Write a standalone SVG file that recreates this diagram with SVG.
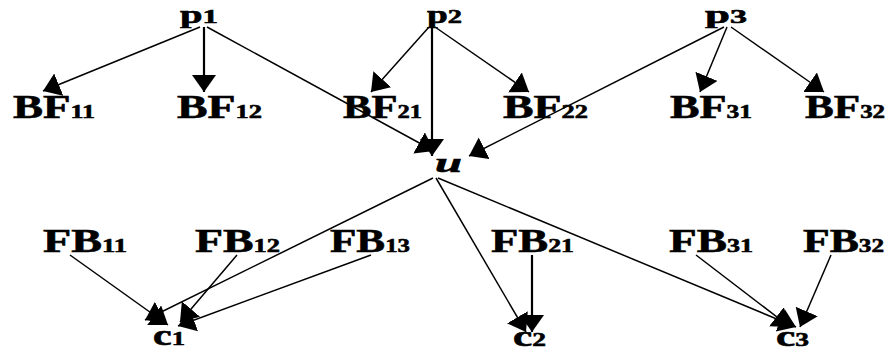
<svg xmlns="http://www.w3.org/2000/svg" width="886" height="352" viewBox="0 0 886 352">
<defs>
<style>
text{font-family:"Liberation Serif","DejaVu Serif",serif;font-weight:bold;font-size:33px;fill:#000;stroke:#000;stroke-width:0.6}
.s{font-size:19px}
.p{font-size:30px}
.t{font-size:25px}
.u{font-style:italic;font-size:28px}
.c{stroke:#000;stroke-width:1.5;fill:none;marker-end:url(#ah)}
.v{stroke-width:2.2}
</style>
<marker id="ah" markerUnits="userSpaceOnUse" markerWidth="20" markerHeight="26" refX="17" refY="12" orient="auto" viewBox="0 0 20 26">
<path d="M0,0 L17,12 L0,24 Z" fill="#000"/>
</marker>
</defs>
<rect width="886" height="352" fill="#fff"/>
<g id="connectors">
<line class="c" x1="200" y1="27" x2="43" y2="91"/>
<line class="c v" x1="204" y1="27" x2="204" y2="92"/>
<line class="c" x1="207" y1="27" x2="434" y2="151"/>
<line class="c" x1="429" y1="27" x2="371" y2="92"/>
<line class="c" x1="435" y1="27" x2="529" y2="92"/>
<line class="c v" x1="432" y1="27" x2="432" y2="156"/>
<line class="c" x1="727" y1="27" x2="700" y2="92"/>
<line class="c" x1="731" y1="27" x2="824" y2="92"/>
<line class="c" x1="724" y1="27" x2="469" y2="156"/>
<line class="c" x1="433" y1="178" x2="145" y2="320"/>
<line class="c" x1="436" y1="178" x2="526" y2="332"/>
<line class="c" x1="438" y1="178" x2="796" y2="327"/>
<line class="c" x1="70" y1="255" x2="168" y2="325"/>
<line class="c" x1="237" y1="255" x2="180" y2="322"/>
<line class="c" x1="371" y1="255" x2="178" y2="326"/>
<line class="c v" x1="532" y1="255" x2="532" y2="332"/>
<line class="c" x1="696" y1="255" x2="790" y2="327"/>
<line class="c" x1="831" y1="255" x2="800" y2="327"/>
</g>
<g id="p1"><text x="180" y="23" class="t" textLength="38" lengthAdjust="spacingAndGlyphs">p<tspan class="s">1</tspan></text></g>
<g id="p2"><text x="427" y="23" class="t" textLength="35" lengthAdjust="spacingAndGlyphs">p<tspan class="s">2</tspan></text></g>
<g id="p3"><text x="705" y="23" class="t" textLength="42" lengthAdjust="spacingAndGlyphs">p<tspan class="s">3</tspan></text></g>
<g id="BF11"><text x="13" y="118" textLength="82" lengthAdjust="spacingAndGlyphs">BF<tspan class="s">11</tspan></text></g>
<g id="BF12"><text x="177" y="118" textLength="85" lengthAdjust="spacingAndGlyphs">BF<tspan class="s">12</tspan></text></g>
<g id="BF21"><text x="343" y="118" textLength="79" lengthAdjust="spacingAndGlyphs">BF<tspan class="s">21</tspan></text></g>
<g id="BF22"><text x="503" y="118" textLength="85" lengthAdjust="spacingAndGlyphs">BF<tspan class="s">22</tspan></text></g>
<g id="BF31"><text x="670" y="118" textLength="82" lengthAdjust="spacingAndGlyphs">BF<tspan class="s">31</tspan></text></g>
<g id="BF32"><text x="805" y="118" textLength="80" lengthAdjust="spacingAndGlyphs">BF<tspan class="s">32</tspan></text></g>
<g id="u"><text x="435" y="172" class="u" textLength="27" lengthAdjust="spacingAndGlyphs">u</text></g>
<g id="FB11"><text x="43" y="252" textLength="84" lengthAdjust="spacingAndGlyphs">FB<tspan class="s">11</tspan></text></g>
<g id="FB12"><text x="195" y="252" textLength="85" lengthAdjust="spacingAndGlyphs">FB<tspan class="s">12</tspan></text></g>
<g id="FB13"><text x="330" y="252" textLength="80" lengthAdjust="spacingAndGlyphs">FB<tspan class="s">13</tspan></text></g>
<g id="FB21"><text x="491" y="252" textLength="83" lengthAdjust="spacingAndGlyphs">FB<tspan class="s">21</tspan></text></g>
<g id="FB31"><text x="669" y="252" textLength="84" lengthAdjust="spacingAndGlyphs">FB<tspan class="s">31</tspan></text></g>
<g id="FB32"><text x="803" y="252" textLength="81" lengthAdjust="spacingAndGlyphs">FB<tspan class="s">32</tspan></text></g>
<g id="c1"><text x="153" y="345" class="p" textLength="32" lengthAdjust="spacingAndGlyphs">c<tspan class="s">1</tspan></text></g>
<g id="c2"><text x="513" y="346" class="p" textLength="33" lengthAdjust="spacingAndGlyphs">c<tspan class="s">2</tspan></text></g>
<g id="c3"><text x="776" y="346" class="p" textLength="33" lengthAdjust="spacingAndGlyphs">c<tspan class="s">3</tspan></text></g>
</svg>
